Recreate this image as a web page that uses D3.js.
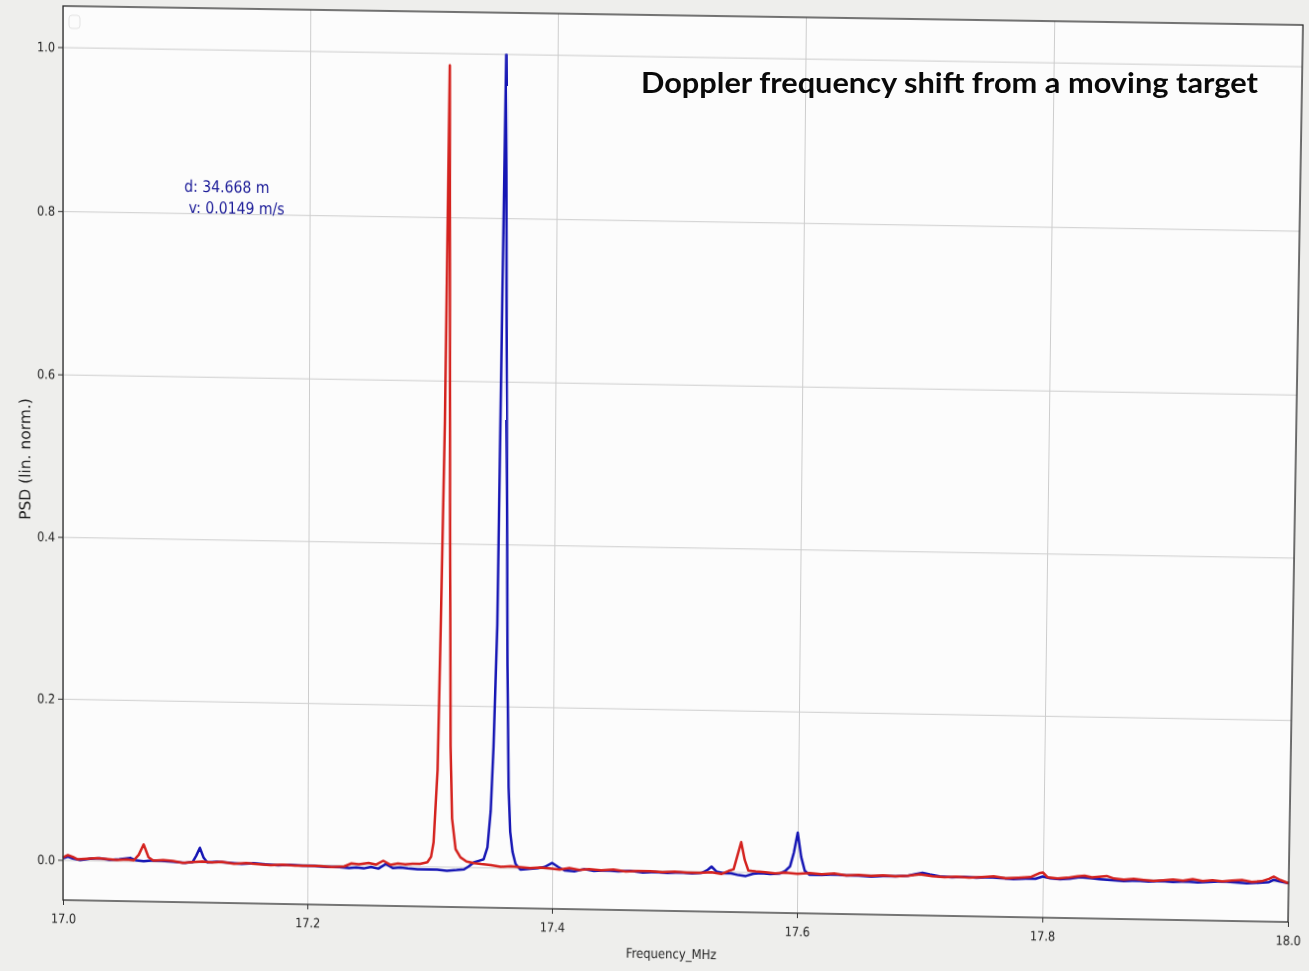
<!DOCTYPE html>
<meta charset="utf-8">
<style>
body { margin: 0; background: #eeeeec; overflow: hidden; }
#chart, #overlay { position: absolute; left: 0; top: 0; overflow: visible; }
#chart { transform-origin: 0 0; }
.grid line { stroke: #cdcdcd; stroke-width: 1; }
.grid .domain { display: none; }
.axis text { font-family: "DejaVu Sans", sans-serif; font-size: 13px; fill: #222; }
.axis line { stroke: #333; }
.axis .domain { display: none; }
</style>
<svg id="chart" width="1340" height="971"></svg>
<svg id="overlay" width="1309" height="971"></svg>
<script src="https://cdn.jsdelivr.net/npm/d3@7"></script>
<script>

// ---- data ----
var xTicks = [17.0, 17.2, 17.4, 17.6, 17.8, 18.0];
var yTicks = [0.0, 0.2, 0.4, 0.6, 0.8, 1.0];

var redFreq = [
  17.000, 17.004, 17.008, 17.012, 17.020, 17.028, 17.036, 17.044, 17.052, 17.058,
  17.062, 17.066, 17.070, 17.074, 17.082, 17.090, 17.098, 17.106, 17.114, 17.122,
  17.130, 17.140, 17.150, 17.160, 17.170, 17.180, 17.190, 17.200, 17.210, 17.220,
  17.230, 17.236, 17.242, 17.250, 17.256, 17.262, 17.268, 17.274, 17.280, 17.286,
  17.292, 17.298, 17.301, 17.303, 17.306, 17.308, 17.3105, 17.313, 17.315, 17.3165,
  17.318, 17.321, 17.325, 17.330, 17.336, 17.342, 17.350, 17.358, 17.366, 17.374,
  17.382, 17.390, 17.398, 17.406, 17.414, 17.422, 17.430, 17.440, 17.450, 17.460,
  17.470, 17.480, 17.490, 17.500, 17.510, 17.520, 17.530, 17.538, 17.544, 17.548,
  17.551, 17.554, 17.557, 17.560, 17.566, 17.574, 17.582, 17.590, 17.600, 17.610,
  17.620, 17.630, 17.640, 17.650, 17.660, 17.670, 17.680, 17.690, 17.700, 17.710,
  17.720, 17.730, 17.740, 17.750, 17.760, 17.770, 17.780, 17.790, 17.797, 17.800,
  17.804, 17.812, 17.820, 17.828, 17.834, 17.840, 17.846, 17.852, 17.858, 17.866,
  17.874, 17.882, 17.890, 17.898, 17.906, 17.914, 17.922, 17.930, 17.938, 17.946,
  17.954, 17.962, 17.970, 17.978, 17.984, 17.988, 17.993, 18.000
];
var redPsd = [
  0.003, 0.006, 0.004, 0.001, 0.002, 0.003, 0.002, 0.001, 0.002, 0.001,
  0.008, 0.021, 0.005, 0.001, 0.002, 0.001, -0.001, 0.000, 0.001, 0.000,
  0.001, -0.001, 0.000, -0.001, -0.002, -0.001, -0.002, -0.002, -0.002, -0.003,
  -0.002, 0.002, 0.001, 0.003, 0.001, 0.006, 0.001, 0.003, 0.002, 0.003,
  0.003, 0.005, 0.012, 0.030, 0.120, 0.300, 0.550, 0.985, 0.450, 0.150,
  0.060, 0.022, 0.012, 0.007, 0.005, 0.004, 0.003, 0.001, 0.002, 0.001,
  0.000, 0.001, 0.000, -0.001, 0.001, -0.001, 0.000, -0.001, 0.000, -0.002,
  -0.001, -0.001, -0.002, -0.001, -0.002, -0.002, -0.001, -0.003, 0.001, 0.003,
  0.020, 0.037, 0.015, 0.002, 0.001, 0.000, -0.001, 0.000, -0.001, 0.000,
  -0.001, 0.000, -0.002, -0.001, -0.002, -0.001, -0.002, -0.001, 0.001, -0.001,
  -0.002, -0.001, -0.002, -0.001, 0.000, -0.002, -0.001, 0.000, 0.005, 0.006,
  0.000, -0.001, 0.000, 0.002, 0.003, 0.001, 0.002, 0.003, 0.000, -0.001,
  0.000, -0.001, -0.002, -0.001, 0.000, -0.001, 0.001, -0.001, 0.000, -0.001,
  0.000, 0.001, -0.001, 0.000, 0.003, 0.006, 0.002, -0.002
];

var blueFreq = [
  17.000, 17.004, 17.008, 17.014, 17.022, 17.030, 17.038, 17.046, 17.055, 17.060,
  17.066, 17.072, 17.080, 17.090, 17.100, 17.106, 17.109, 17.112, 17.115, 17.118,
  17.126, 17.136, 17.146, 17.156, 17.166, 17.176, 17.186, 17.196, 17.206, 17.216,
  17.226, 17.234, 17.240, 17.246, 17.252, 17.258, 17.264, 17.270, 17.276, 17.282,
  17.290, 17.298, 17.306, 17.314, 17.322, 17.328, 17.332, 17.336, 17.340, 17.344,
  17.347, 17.3495, 17.3515, 17.354, 17.3565, 17.3585, 17.3605, 17.3625, 17.364, 17.3655,
  17.3675, 17.370, 17.374, 17.380, 17.388, 17.394, 17.400, 17.405, 17.410, 17.418,
  17.426, 17.434, 17.444, 17.454, 17.464, 17.474, 17.484, 17.494, 17.504, 17.514,
  17.522, 17.527, 17.530, 17.534, 17.540, 17.546, 17.552, 17.558, 17.564, 17.570,
  17.578, 17.586, 17.590, 17.594, 17.597, 17.600, 17.603, 17.606, 17.610, 17.620,
  17.630, 17.640, 17.650, 17.660, 17.670, 17.680, 17.690, 17.696, 17.702, 17.708,
  17.716, 17.726, 17.736, 17.746, 17.756, 17.766, 17.776, 17.786, 17.794, 17.800,
  17.806, 17.814, 17.822, 17.830, 17.838, 17.846, 17.856, 17.866, 17.876, 17.886,
  17.896, 17.906, 17.916, 17.926, 17.936, 17.946, 17.956, 17.966, 17.976, 17.984,
  17.988, 17.993, 18.000
];
var bluePsd = [
  0.002, 0.004, 0.002, 0.000, 0.002, 0.003, 0.001, 0.002, 0.004, 0.001,
  0.000, 0.001, 0.001, 0.000, -0.001, 0.000, 0.008, 0.018, 0.006, 0.000,
  0.001, 0.000, -0.001, 0.000, -0.001, -0.002, -0.001, -0.002, -0.002, -0.003,
  -0.003, -0.004, -0.003, -0.004, -0.002, -0.004, 0.002, -0.003, -0.002, -0.003,
  -0.004, -0.004, -0.004, -0.005, -0.004, -0.003, 0.001, 0.006, 0.008, 0.010,
  0.025, 0.070, 0.150, 0.300, 0.700, 0.999, 0.600, 0.250, 0.100, 0.045,
  0.020, 0.005, -0.002, -0.001, 0.000, 0.002, 0.007, 0.002, -0.002, -0.003,
  0.000, -0.002, -0.001, -0.002, -0.001, -0.003, -0.002, -0.003, -0.002, -0.003,
  -0.002, 0.002, 0.006, 0.000, -0.002, -0.002, -0.004, -0.005, -0.002, -0.001,
  -0.002, -0.001, 0.002, 0.008, 0.025, 0.050, 0.020, 0.003, -0.002, -0.002,
  -0.001, -0.002, -0.002, -0.003, -0.002, -0.002, -0.001, 0.001, 0.003, 0.001,
  -0.001, -0.002, -0.001, -0.002, -0.001, -0.002, -0.003, -0.002, -0.002, 0.001,
  -0.001, -0.002, -0.001, 0.001, 0.000, -0.001, -0.002, -0.003, -0.002, -0.003,
  -0.002, -0.003, -0.002, -0.003, -0.002, -0.001, -0.002, -0.003, -0.002, -0.001,
  0.002, 0.000, -0.002
];

var annotLines = ["d: 34.668 m", "\u00a0v: 0.0149 m/s"];
var titleText = "Doppler frequency shift from a moving target";

// ---- flat chart, later tilted like the photo ----
var svg = d3.select("#chart");
var x0 = 63, y0 = 6, W = 1240, H = 894;

var x = d3.scaleLinear().domain([17.0, 18.0]).range([x0, x0 + W]);
var y = d3.scaleLinear().domain([-0.05, 1.05]).range([y0 + H, y0]);

svg.append("rect")
    .attr("x", x0).attr("y", y0).attr("width", W).attr("height", H)
    .attr("fill", "#fcfcfc");

// grid
svg.append("g").attr("class", "grid")
    .attr("transform", "translate(0," + (y0 + H) + ")")
    .call(d3.axisBottom(x).tickValues(xTicks).tickSize(-H).tickFormat(""));
svg.append("g").attr("class", "grid")
    .attr("transform", "translate(" + x0 + ",0)")
    .call(d3.axisLeft(y).tickValues(yTicks).tickSize(-W).tickFormat(""));

// faint empty legend box
svg.append("rect")
    .attr("x", 69).attr("y", 15).attr("width", 11).attr("height", 13).attr("rx", 3)
    .attr("fill", "none").attr("stroke", "#e2e2e2");

var line = d3.line()
    .x(function(d) { return x(d[0]); })
    .y(function(d) { return y(d[1]); });

var blue = d3.zip(blueFreq, bluePsd);
var red = d3.zip(redFreq, redPsd);

svg.append("path").datum(blue)
    .attr("fill", "none").attr("stroke", "#1616b4").attr("stroke-width", 2.5)
    .attr("stroke-linejoin", "round")
    .attr("d", line);
svg.append("path").datum(red)
    .attr("fill", "none").attr("stroke", "#d4221e").attr("stroke-width", 2.5)
    .attr("stroke-linejoin", "round")
    .attr("d", line);

// axes
var gx = svg.append("g").attr("class", "axis")
    .attr("transform", "translate(0," + (y0 + H) + ")")
    .call(d3.axisBottom(x).tickValues(xTicks).tickSize(5).tickPadding(9).tickFormat(d3.format(".1f")));
gx.selectAll("text").attr("transform", "scale(0.88,1)");

var gy = svg.append("g").attr("class", "axis")
    .attr("transform", "translate(" + x0 + ",0)")
    .call(d3.axisLeft(y).tickValues(yTicks).tickSize(5).tickPadding(4).tickFormat(d3.format(".1f")));
gy.selectAll("text").attr("transform", "scale(0.88,1)");

// frame
svg.append("rect")
    .attr("x", x0).attr("y", y0).attr("width", W).attr("height", H)
    .attr("fill", "none").attr("stroke", "#2e2e2e").attr("stroke-width", 1.3);

// labels
svg.append("text")
    .attr("transform", "translate(30,457) rotate(-90)")
    .attr("text-anchor", "middle")
    .style("font-family", "DejaVu Sans").style("font-size", "15.5px").style("fill", "#222")
    .text("PSD (lin. norm.)");

svg.append("text")
    .attr("transform", "translate(680,948) scale(0.87,1)")
    .attr("text-anchor", "middle")
    .style("font-family", "DejaVu Sans").style("font-size", "13.5px").style("fill", "#222")
    .text("Frequency_MHz");

svg.append("g")
    .attr("transform", "translate(185,188) scale(0.88,1)")
  .selectAll("text")
  .data(annotLines)
  .enter().append("text")
    .attr("y", function(d, i) { return i * 21; })
    .style("font-family", "DejaVu Sans").style("font-size", "16px").style("fill", "#1c1c98")
    .text(function(d) { return d; });

// ---- perspective of the photo: map the flat plot box onto the tilted one ----
var quad = [[63, 6], [1303, 25], [1288, 922], [63, 900]];

function squareToQuad(p) {
  var dx1 = p[1][0] - p[2][0], dx2 = p[3][0] - p[2][0], dx3 = p[0][0] - p[1][0] + p[2][0] - p[3][0];
  var dy1 = p[1][1] - p[2][1], dy2 = p[3][1] - p[2][1], dy3 = p[0][1] - p[1][1] + p[2][1] - p[3][1];
  var den = dx1 * dy2 - dx2 * dy1;
  var g = (dx3 * dy2 - dx2 * dy3) / den;
  var h = (dx1 * dy3 - dx3 * dy1) / den;
  return {
    a: p[1][0] - p[0][0] + g * p[1][0], b: p[3][0] - p[0][0] + h * p[3][0], c: p[0][0],
    d: p[1][1] - p[0][1] + g * p[1][1], e: p[3][1] - p[0][1] + h * p[3][1], f: p[0][1],
    g: g, h: h
  };
}

var m = squareToQuad(quad);
var m00 = m.a / W, m01 = m.b / H, m02 = -m.a * x0 / W - m.b * y0 / H + m.c;
var m10 = m.d / W, m11 = m.e / H, m12 = -m.d * x0 / W - m.e * y0 / H + m.f;
var m20 = m.g / W, m21 = m.h / H, m22 = -m.g * x0 / W - m.h * y0 / H + 1;

svg.style("transform", "matrix3d(" + [m00, m10, 0, m20, m01, m11, 0, m21, 0, 0, 1, 0, m02, m12, 0, m22].join(",") + ")");

// title sits flat on top of the photo
d3.select("#overlay").append("text")
    .attr("x", 641).attr("y", 93)
    .attr("textLength", 617).attr("lengthAdjust", "spacingAndGlyphs")
    .style("font-family", "Lato, 'Noto Sans', sans-serif")
    .style("font-weight", "bold").style("font-size", "29px").style("fill", "#0a0a0a")
    .text(titleText);

</script>
